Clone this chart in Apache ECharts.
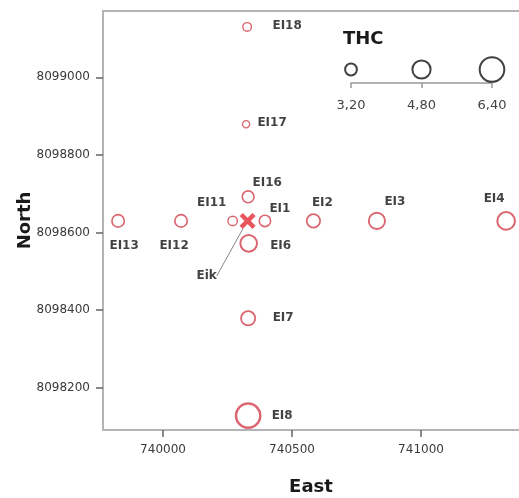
<!DOCTYPE html>
<html>
<head>
<meta charset="utf-8">
<script src="https://cdn.jsdelivr.net/npm/echarts@6/dist/echarts.min.js"></script>
<style>
html,body{margin:0;padding:0;background:#fff;}
#chart{width:519px;height:498px;}
</style>
</head>
<body>
<div id="chart"></div>
<script>
// ---- data ----
const names = ['EI1','EI2','EI3','EI4','EI6','EI7','EI8','EI11','EI12','EI13','EI16','EI17','EI18'];
const east  = [740395, 740583, 740829, 741330, 740332, 740330, 740330, 740270, 740070, 739826, 740330, 740322, 740326];
const north = [8098630, 8098630, 8098630, 8098630, 8098572, 8098379, 8098128, 8098630, 8098630, 8098630, 8098692, 8098879, 8099130];
const thc   = [3.1, 3.6, 4.3, 4.65, 4.4, 3.8, 6.3, 2.6, 3.35, 3.35, 3.2, 2.05, 2.4];
const eikName = 'Eik';
const eikEast = 740328;
const eikNorth = 8098630;
const xTicks = [740000, 740500, 741000];
const yTicks = [8098200, 8098400, 8098600, 8098800, 8099000];
const legendValues = [3.2, 4.8, 6.4];

// ---- layout / style (not data) ----
const labelOffsets = {
  EI1:[15,-12], EI2:[9,-18], EI3:[18,-19], EI4:[-12,-22], EI6:[32,2], EI7:[35,0], EI8:[34,0],
  EI11:[-21,-18], EI12:[-7,25], EI13:[6,25], EI16:[19,-14], EI17:[26,-1], EI18:[40,-1]
};
const FONT = 'DejaVu Sans';
const RED = '#d2404c';
const sizeOf = v => 4 * v - 1;
const X_MIN = 739767.4, X_MAX = 741379.8;

const pointData = names.map((n, i) => {
  const s = sizeOf(thc[i]);
  return {
    name: n,
    value: [east[i], north[i], thc[i]],
    symbolSize: s,
    itemStyle: { borderWidth: 0.8 + 0.07 * s },
    label: { offset: labelOffsets[n] }
  };
});

const chart = echarts.init(document.getElementById('chart'), null, {renderer: 'canvas'});
chart.setOption({
  animation: false,
  backgroundColor: '#fff',
  title: {
    text: 'THC', left: 338, top: 25,
    textStyle: { fontFamily: FONT, fontSize: 18, fontWeight: 'bold', color: '#1a1a1a' }
  },
  grid: [
    { left: 103, top: 11, right: 0, bottom: 68, containLabel: false, outerBoundsMode: 'none' },
    { left: 351, top: 56, width: 141, height: 27, containLabel: false, outerBoundsMode: 'none' }
  ],
  xAxis: [
    {
      type: 'value', gridIndex: 0, min: X_MIN, max: X_MAX,
      name: 'East', nameLocation: 'middle', nameGap: 48, nameMoveOverlap: false,
      nameTextStyle: { fontFamily: FONT, fontSize: 18, fontWeight: 'bold', color: '#1a1a1a' },
      axisLine: { show: true, lineStyle: { color: '#b4b4b4', width: 2 } },
      axisTick: { show: true, length: 7, customValues: xTicks, lineStyle: { color: '#666', width: 1.5 } },
      axisLabel: { customValues: xTicks, margin: 14, fontFamily: FONT, fontSize: 12, color: '#3a3a3a',
        formatter: v => String(v) },
      splitLine: { show: false }
    },
    {
      type: 'value', gridIndex: 1, min: 3.2, max: 6.4,
      axisLine: { show: true, lineStyle: { color: '#999', width: 1.5 } },
      axisTick: { show: true, length: 5, customValues: legendValues, lineStyle: { color: '#999', width: 1.5 } },
      axisLabel: { customValues: legendValues, margin: 16, fontFamily: FONT, fontSize: 13, color: '#444',
        formatter: v => v.toFixed(2).replace('.', ',') },
      splitLine: { show: false }
    },
    {
      type: 'value', gridIndex: 0, position: 'top', min: X_MIN, max: X_MAX,
      axisLine: { show: true, onZero: false, lineStyle: { color: '#b4b4b4', width: 2 } },
      axisTick: { show: false }, axisLabel: { show: false }, splitLine: { show: false }
    }
  ],
  yAxis: [
    {
      type: 'value', gridIndex: 0, min: 8098091, max: 8099171,
      name: 'North', nameLocation: 'middle', nameGap: 69, nameMoveOverlap: false,
      nameTextStyle: { fontFamily: FONT, fontSize: 18, fontWeight: 'bold', color: '#1a1a1a' },
      axisLine: { show: true, lineStyle: { color: '#b4b4b4', width: 2 } },
      axisTick: { show: true, length: 7, customValues: yTicks, lineStyle: { color: '#666', width: 1.5 } },
      axisLabel: { customValues: yTicks, margin: 13, fontFamily: FONT, fontSize: 12, color: '#3a3a3a',
        formatter: v => String(v) },
      splitLine: { show: false }
    },
    { type: 'value', gridIndex: 1, min: 0, max: 1, show: false }
  ],
  series: [
    {
      type: 'scatter', xAxisIndex: 0, yAxisIndex: 0,
      symbol: 'circle',
      itemStyle: { color: 'rgba(255,255,255,0)', borderColor: RED },
      label: {
        show: true, position: 'inside', formatter: p => p.name,
        fontFamily: FONT, fontSize: 12, fontWeight: 'bold', color: '#111', textBorderWidth: 0
      },
      emphasis: { disabled: true },
      data: pointData,
      z: 3
    },
    {
      type: 'scatter', xAxisIndex: 0, yAxisIndex: 0,
      symbol: 'path://M0,4 L4,0 L10,6 L16,0 L20,4 L14,10 L20,16 L16,20 L10,14 L4,20 L0,16 L6,10 Z',
      symbolSize: 16,
      itemStyle: { color: '#e42a34' },
      label: {
        show: true, position: 'inside', formatter: p => p.name,
        fontFamily: FONT, fontSize: 12, fontWeight: 'bold', color: '#111', textBorderWidth: 0
      },
      labelLayout: { dx: -41, dy: 55 },
      labelLine: { show: true, lineStyle: { color: '#888', width: 1 } },
      emphasis: { disabled: true },
      data: [{ name: eikName, value: [eikEast, eikNorth] }],
      z: 4
    },
    {
      type: 'scatter', xAxisIndex: 1, yAxisIndex: 1,
      symbol: 'circle',
      symbolSize: v => sizeOf(v[0]),
      itemStyle: { color: 'rgba(255,255,255,0)', borderColor: '#111', borderWidth: 2 },
      emphasis: { disabled: true },
      data: legendValues.map(v => [v, 0.5])
    }
  ]
});
</script>
</body>
</html>
